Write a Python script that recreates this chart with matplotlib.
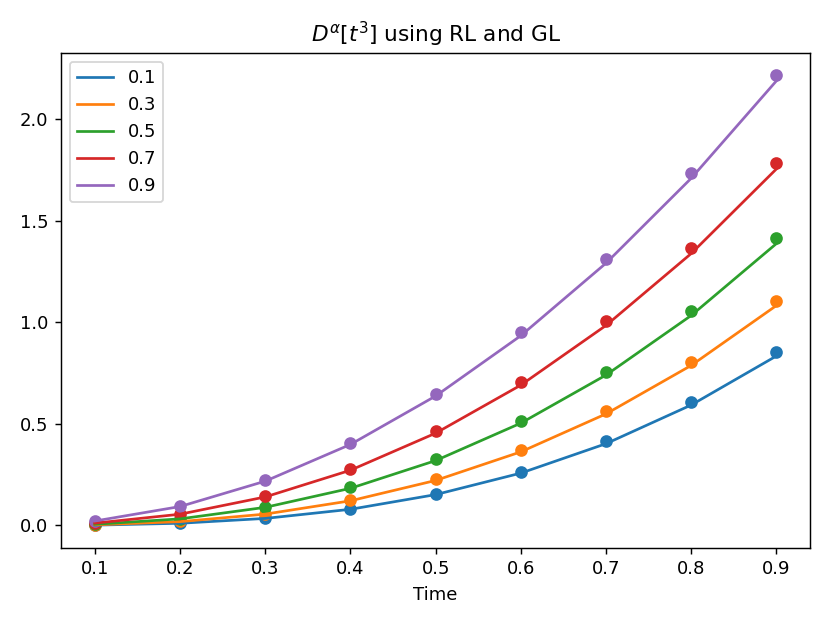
import numpy as np
import matplotlib.pyplot as plt

time = [0.1, 0.2, 0.3, 0.4, 0.5, 0.6, 0.7, 0.8, 0.9]
alphas = [0.1, 0.3, 0.5, 0.7, 0.9]

# RL (lines)
rl = [
    [0.0014, 0.0106, 0.0345, 0.0794, 0.1517, 0.2575, 0.4024, 0.5928, 0.8341],
    [0.0029, 0.0187, 0.0557, 0.1212, 0.2214, 0.3622, 0.5491, 0.7876, 1.0824],
    [0.0057, 0.0323, 0.0890, 0.1827, 0.3191, 0.5035, 0.7402, 1.0335, 1.3873],
    [0.0112, 0.0552, 0.1402, 0.2717, 0.4541, 0.6907, 0.9845, 1.3384, 1.7547],
    [0.0217, 0.0930, 0.2179, 0.3986, 0.6370, 0.9340, 1.2911, 1.7089, 2.1883],
]
# GL (dots)
gl = [
    [0.002, 0.012, 0.036, 0.082, 0.156, 0.265, 0.414, 0.608, 0.856],
    [0.003, 0.020, 0.058, 0.125, 0.227, 0.371, 0.562, 0.805, 1.107],
    [0.006, 0.034, 0.092, 0.187, 0.326, 0.514, 0.756, 1.054, 1.415],
    [0.012, 0.057, 0.144, 0.278, 0.464, 0.705, 1.004, 1.364, 1.786],
    [0.022, 0.095, 0.222, 0.406, 0.648, 0.950, 1.311, 1.733, 2.216],
]

fig, ax = plt.subplots(figsize=(830 / 130, 623 / 130), dpi=130)

for a, yl, yg in zip(alphas, rl, gl):
    ax.plot(time, yl, label=str(a))
    ax.scatter(time, yg)

ax.set_title(r"$D^{\alpha}[t^3]$ using RL and GL")
ax.set_xlabel("Time")
ax.legend()

plt.tight_layout()
plt.savefig("out.png")
